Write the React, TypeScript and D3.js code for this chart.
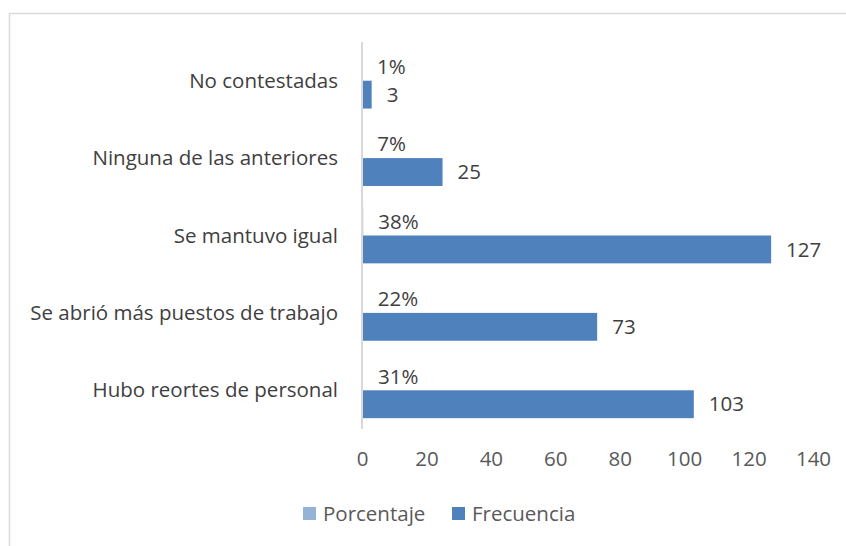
import React, { useRef, useEffect } from "react";
import { select, scaleBand, scaleLinear, axisBottom } from "d3";

const categories = [
  "No contestadas",
  "Ninguna de las anteriores",
  "Se mantuvo igual",
  "Se abrió más puestos de trabajo",
  "Hubo reortes de personal",
];
const porcentaje = [0.01, 0.07, 0.38, 0.22, 0.31];
const frecuencia = [3, 25, 127, 73, 103];
const seriesNames = ["Porcentaje", "Frecuencia"];
const seriesColors = ["#95B3D7", "#4F81BD"];
const xTicks = [0, 20, 40, 60, 80, 100, 120, 140];

const FONT = "Open Sans, Liberation Sans, sans-serif";
const FS = 20.5;

function App() {
  const svgRef = useRef<SVGSVGElement>(null);

  useEffect(() => {
    document.body.style.margin = "0";
    const svg = select(svgRef.current);
    svg.selectAll("*").remove();

    // outer frame of the chart area
    svg
      .append("rect")
      .attr("x", 9.5)
      .attr("y", 13.5)
      .attr("width", 900)
      .attr("height", 600)
      .attr("fill", "white")
      .attr("stroke", "#D9D9D9")
      .attr("stroke-width", 1.5);

    const xScale = scaleLinear().domain([0, 140]).range([362, 813]);

    const yScale = scaleBand()
      .domain(categories)
      .range([42, 429])
      .paddingInner(0.28)
      .paddingOuter(0.14);

    const subScale = scaleBand()
      .domain(seriesNames)
      .range([0, yScale.bandwidth()]);

    // x axis labels (no axis line)
    const xAxis = svg
      .append("g")
      .attr("transform", "translate(0,429)")
      .call(axisBottom(xScale).tickValues(xTicks).tickSize(0).tickPadding(22));
    xAxis.select(".domain").remove();
    xAxis
      .selectAll("text")
      .attr("font-family", FONT)
      .attr("font-size", FS)
      .attr("fill", "#595959");

    const rows = categories.map((name, i) => ({
      name,
      values: [porcentaje[i], frecuencia[i]],
    }));

    const group = svg
      .selectAll(".group")
      .data(rows)
      .join("g")
      .attr("class", "group")
      .attr("transform", (d) => `translate(0,${yScale(d.name)})`);

    group
      .selectAll("rect")
      .data((d) => d.values.map((v, j) => ({ v, s: seriesNames[j], c: seriesColors[j] })))
      .join("rect")
      .attr("x", xScale(0))
      .attr("y", (d) => subScale(d.s)!)
      .attr("height", subScale.bandwidth())
      .attr("width", (d) => xScale(d.v) - xScale(0))
      .attr("fill", (d) => d.c);

    // data labels
    group
      .selectAll(".lbl")
      .data((d) =>
        d.values.map((v, j) => ({
          v,
          s: seriesNames[j],
          text: j === 0 ? `${Math.round(v * 100)}%` : `${v}`,
        }))
      )
      .join("text")
      .attr("class", "lbl")
      .attr("x", (d) => xScale(d.v) + 15)
      .attr("y", (d) => subScale(d.s)! + subScale.bandwidth() / 2)
      .attr("dy", "0.35em")
      .attr("font-family", FONT)
      .attr("font-size", FS)
      .attr("fill", "#404040")
      .text((d) => d.text);

    // category axis line
    svg
      .append("line")
      .attr("x1", xScale(0))
      .attr("x2", xScale(0))
      .attr("y1", 42)
      .attr("y2", 429)
      .attr("stroke", "#D9D9D9")
      .attr("stroke-width", 2);

    svg
      .selectAll(".cat")
      .data(categories)
      .join("text")
      .attr("class", "cat")
      .attr("x", 338)
      .attr("y", (d) => yScale(d)! + yScale.bandwidth() / 2)
      .attr("dy", "0.35em")
      .attr("text-anchor", "end")
      .attr("font-family", FONT)
      .attr("font-size", FS)
      .attr("fill", "#404040")
      .text((d) => d);

    // legend
    const legendX = [303, 452];
    const legend = svg
      .selectAll(".legend")
      .data(seriesNames)
      .join("g")
      .attr("class", "legend")
      .attr("transform", (d, i) => `translate(${legendX[i]},507)`);
    legend
      .append("rect")
      .attr("width", 13)
      .attr("height", 13)
      .attr("fill", (d, i) => seriesColors[i]);
    legend
      .append("text")
      .attr("x", 20)
      .attr("y", 7)
      .attr("dy", "0.35em")
      .attr("font-family", FONT)
      .attr("font-size", FS)
      .attr("fill", "#595959")
      .text((d) => d);
  }, []);

  return (
    <div>
      <svg ref={svgRef} width={846} height={546} style={{ display: "block" }}></svg>
    </div>
  );
}

export default App;
